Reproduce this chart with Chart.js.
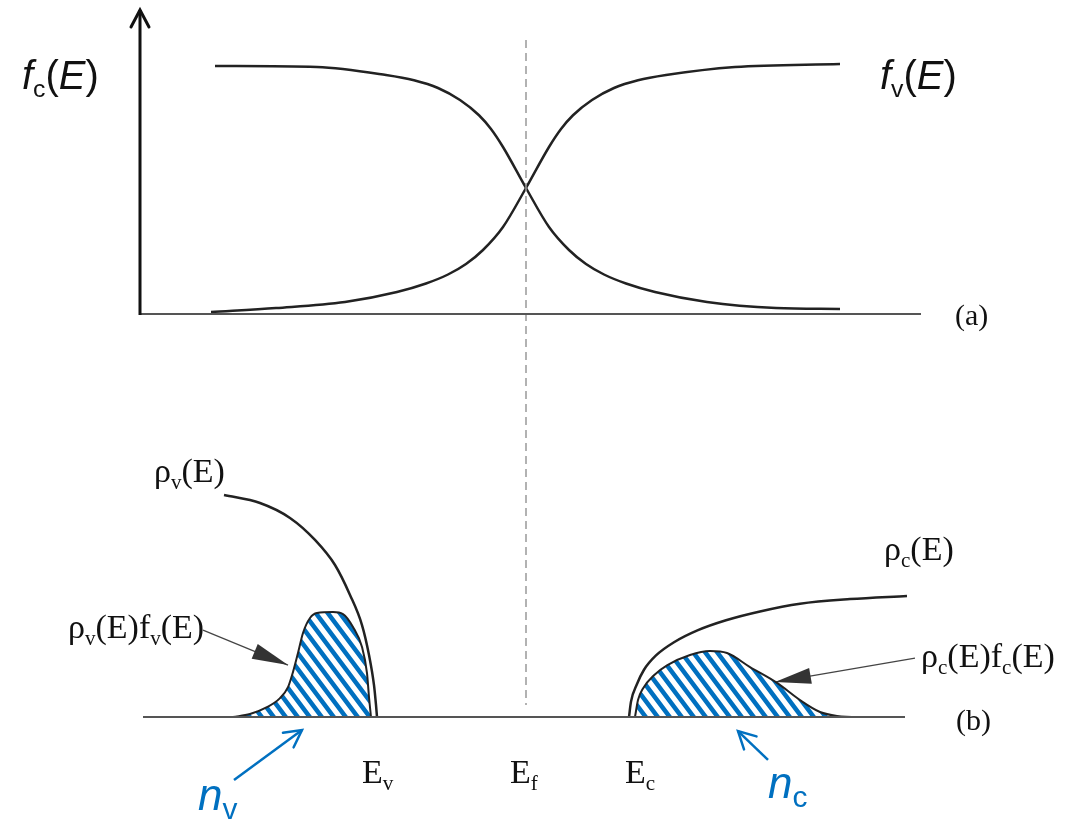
<!DOCTYPE html>
<html>
<head>
<meta charset="utf-8">
<script src="https://cdn.jsdelivr.net/npm/chart.js@4.4.1/dist/chart.umd.min.js"></script>
<style>
  html, body { margin: 0; padding: 0; background: #fff; }
  #wrap { width: 1068px; height: 820px; }
</style>
</head>
<body>
<div id="wrap"><canvas id="bands" width="1068" height="820"></canvas></div>
<script>
// Energy in arbitrary units, Fermi level at E = 0
const E_F = 0;

// (a) occupation probabilities
const fcE   = [-7.775, -5.225, -3.5, -2.8, -2.2, -1.65, -1.175, -0.875, -0.575, 0, 0.575, 1.075, 1.5, 1.95, 2.5, 3.225, 4.525, 6.25, 7.85];
const fcVal = [0.992, 0.988, 0.956, 0.935, 0.904, 0.856, 0.795, 0.74, 0.668, 0.504, 0.348, 0.256, 0.2, 0.158, 0.122, 0.088, 0.048, 0.024, 0.02];
const fvE   = [-7.875, -6.25, -4.525, -3.225, -2.5, -1.95, -1.5, -1.075, -0.575, 0, 0.575, 0.875, 1.175, 1.65, 2.2, 2.8, 3.5, 5.225, 7.85];
const fvVal = [0.008, 0.024, 0.048, 0.088, 0.122, 0.158, 0.2, 0.256, 0.348, 0.504, 0.668, 0.74, 0.795, 0.856, 0.904, 0.935, 0.956, 0.988, 1.0];

// (b) densities of states
const rhoVE   = [-7.55, -6.65, -5.9, -5.275, -4.775, -4.4, -4.1, -3.925, -3.8, -3.75, -3.725];
const rhoVVal = [1.009, 0.973, 0.905, 0.805, 0.691, 0.555, 0.418, 0.282, 0.145, 0.055, 0];
const rhoCE   = [2.575, 2.625, 2.775, 2.95, 3.25, 3.7, 4.3, 5.0, 5.85, 6.85, 8.1, 9.525];
const rhoCVal = [0, 0.07, 0.15, 0.215, 0.28, 0.34, 0.395, 0.44, 0.48, 0.515, 0.536, 0.55];

// occupied states: holes in the valence band, electrons in the conduction band
const nvE   = [-7.325, -6.9, -6.475, -6.15, -5.95, -5.825, -5.7, -5.575, -5.4, -5.225, -4.825, -4.575, -4.325, -4.1, -3.975, -3.925, -3.875];
const nvVal = [0, 0.014, 0.045, 0.086, 0.136, 0.205, 0.291, 0.382, 0.45, 0.473, 0.477, 0.468, 0.409, 0.318, 0.2, 0.091, 0];
const ncE   = [2.725, 2.8, 2.925, 3.2, 3.525, 4.1, 4.6, 5.025, 5.6, 6.275, 6.85, 7.35, 7.775, 8.3, 9.475];
const ncVal = [0, 0.077, 0.13, 0.19, 0.235, 0.282, 0.3, 0.291, 0.227, 0.155, 0.077, 0.023, 0.005, 0, 0];

const pts = (xs, ys) => xs.map((x, i) => ({ x: x, y: ys[i] }));

const SANS = '"Liberation Sans", Arial, sans-serif';
const SERIF = '"Liberation Serif", "Times New Roman", serif';
const BLUE = '#0070c0';

// diagonal blue hatching for the occupied-state areas
function hatch() {
  const s = 12, h = 16;
  const c = document.createElement('canvas');
  c.width = s; c.height = h;
  const g = c.getContext('2d');
  g.strokeStyle = BLUE;
  g.lineWidth = 4.5;
  g.beginPath();
  // lines run past the tile edges so the thick strokes join up seamlessly
  [-2 * s, -s, 0, s, 2 * s].forEach(x0 => { g.moveTo(x0 - s, -h); g.lineTo(x0 + 2 * s, 2 * h); });
  g.stroke();
  return g.createPattern(c, 'repeat');
}

function curve(data, axis, opts) {
  return Object.assign({
    data: data, yAxisID: axis, showLine: true, pointRadius: 0,
    borderColor: '#222', borderWidth: 2.5, fill: false,
    cubicInterpolationMode: 'monotone'
  }, opts || {});
}

function line(data, axis, opts) {
  return Object.assign({
    data: data, yAxisID: axis, showLine: true, pointRadius: 0,
    borderColor: '#555', borderWidth: 2, fill: false, tension: 0
  }, opts || {});
}

const stripes = hatch();

const datasets = [
  // frame of (a)
  line([{ x: -9.65, y: -0.004 }, { x: -9.65, y: 1.216 }], 'yA', { borderColor: '#111', borderWidth: 3, arrow: 'open' }),
  line([{ x: -9.65, y: 0 }, { x: 9.875, y: 0 }], 'yA'),
  // Fermi level
  line([{ x: E_F, y: 1.096 }, { x: E_F, y: -1.564 }], 'yA', { borderColor: '#999', borderWidth: 1.5, borderDash: [8, 5] }),
  curve(pts(fcE, fcVal), 'yA'),
  curve(pts(fvE, fvVal), 'yA'),
  // baseline of (b)
  line([{ x: -9.575, y: 0 }, { x: 9.475, y: 0 }], 'yB'),
  curve(pts(nvE, nvVal), 'yB', { fill: 'origin', backgroundColor: stripes, borderWidth: 2 }),
  curve(pts(ncE, ncVal), 'yB', { fill: 'origin', backgroundColor: stripes, borderWidth: 2 }),
  curve(pts(rhoVE, rhoVVal), 'yB'),
  curve(pts(rhoCE, rhoCVal), 'yB'),
  // pointers
  line([{ x: -8.075, y: 0.395 }, { x: -5.95, y: 0.236 }], 'yB', { borderColor: '#444', borderWidth: 1.2, arrow: 'filled' }),
  line([{ x: 9.725, y: 0.268 }, { x: 6.225, y: 0.159 }], 'yB', { borderColor: '#444', borderWidth: 1.2, arrow: 'filled' }),
  line([{ x: -7.3, y: -0.286 }, { x: -5.6, y: -0.059 }], 'yB', { borderColor: BLUE, borderWidth: 2.5, arrow: 'open' }),
  line([{ x: 6.05, y: -0.195 }, { x: 5.3, y: -0.064 }], 'yB', { borderColor: BLUE, borderWidth: 2.5, arrow: 'open' })
];

// text: [string, style] where style has i = italic, s = subscript
const texts = [
  { axis: 'yA', x: -12.6, y: 0.9, fam: SANS, size: 40, parts: [['f', 'i'], ['c', 's'], ['(', ''], ['E', 'i'], [')', '']] },
  { axis: 'yA', x: 8.85, y: 0.9, fam: SANS, size: 40, parts: [['f', 'i'], ['v', 's'], ['(', ''], ['E', 'i'], [')', '']] },
  { axis: 'yA', x: 10.725, y: -0.044, fam: SERIF, size: 30, parts: [['(a)', '']] },
  { axis: 'yB', x: 10.75, y: -0.059, fam: SERIF, size: 30, parts: [['(b)', '']] },
  { axis: 'yB', x: -9.3, y: 1.068, fam: SERIF, size: 34, parts: [['ρ', ''], ['v', 's'], ['(E)', '']] },
  { axis: 'yB', x: -11.45, y: 0.359, fam: SERIF, size: 34, parts: [['ρ', ''], ['v', 's'], ['(E)f', ''], ['v', 's'], ['(E)', '']] },
  { axis: 'yB', x: 8.95, y: 0.714, fam: SERIF, size: 34, parts: [['ρ', ''], ['c', 's'], ['(E)', '']] },
  { axis: 'yB', x: 9.875, y: 0.227, fam: SERIF, size: 34, parts: [['ρ', ''], ['c', 's'], ['(E)f', ''], ['c', 's'], ['(E)', '']] },
  { axis: 'yB', x: -4.1, y: -0.3, fam: SERIF, size: 34, parts: [['E', ''], ['v', 's']] },
  { axis: 'yB', x: -0.4, y: -0.3, fam: SERIF, size: 34, parts: [['E', ''], ['f', 's']] },
  { axis: 'yB', x: 2.475, y: -0.3, fam: SERIF, size: 34, parts: [['E', ''], ['c', 's']] },
  { axis: 'yB', x: -8.2, y: -0.423, fam: SANS, size: 44, sub: 0.68, color: BLUE, parts: [['n', 'i'], ['v', 's']] },
  { axis: 'yB', x: 6.05, y: -0.368, fam: SANS, size: 44, sub: 0.68, color: BLUE, parts: [['n', 'i'], ['c', 's']] }
];

function drawParts(ctx, x, y, t) {
  let cx = x;
  ctx.fillStyle = t.color || '#111';
  ctx.textAlign = 'left';
  ctx.textBaseline = 'alphabetic';
  t.parts.forEach(([s, st]) => {
    const sub = st.includes('s');
    const sz = sub ? t.size * (t.sub || 0.62) : t.size;
    ctx.font = (st.includes('i') ? 'italic ' : '') + sz + 'px ' + t.fam;
    ctx.fillText(s, cx, y + (sub ? t.size * 0.2 : 0));
    cx += ctx.measureText(s).width;
  });
}

const decorations = {
  id: 'decorations',
  afterDatasetsDraw(chart) {
    const ctx = chart.ctx;
    ctx.save();
    // arrow heads at the last point of each pointer line
    chart.data.datasets.forEach((ds, i) => {
      if (!ds.arrow) return;
      const el = chart.getDatasetMeta(i).data;
      const a = el[el.length - 2], b = el[el.length - 1];
      const ang = Math.atan2(b.y - a.y, b.x - a.x);
      ctx.save();
      ctx.translate(b.x, b.y);
      ctx.rotate(ang);
      ctx.strokeStyle = ds.borderColor;
      ctx.fillStyle = '#333';
      ctx.lineWidth = ds.borderWidth;
      ctx.lineCap = 'round';
      ctx.beginPath();
      if (ds.arrow === 'filled') {
        ctx.moveTo(0, 0);
        ctx.lineTo(-36, -8);
        ctx.lineTo(-36, 8);
        ctx.closePath();
        ctx.fill();
      } else {
        ctx.moveTo(-17, -9);
        ctx.lineTo(0, 0);
        ctx.lineTo(-17, 9);
        ctx.stroke();
      }
      ctx.restore();
    });
    texts.forEach(t => {
      const px = chart.scales.x.getPixelForValue(t.x);
      const py = chart.scales[t.axis].getPixelForValue(t.y);
      drawParts(ctx, px, py, t);
    });
    ctx.restore();
  }
};

new Chart(document.getElementById('bands'), {
  type: 'scatter',
  data: { datasets: datasets },
  options: {
    responsive: false,
    animation: false,
    devicePixelRatio: 1,
    layout: { padding: 0 },
    plugins: { legend: { display: false }, tooltip: { enabled: false } },
    scales: {
      x: { type: 'linear', min: -13.15, max: 13.55, display: false },
      yA: { type: 'linear', position: 'left', min: -2.024, max: 1.256, display: false },
      yB: { type: 'linear', position: 'left', min: -0.468, max: 3.259, display: false }
    }
  },
  plugins: [decorations]
});
</script>
</body>
</html>
